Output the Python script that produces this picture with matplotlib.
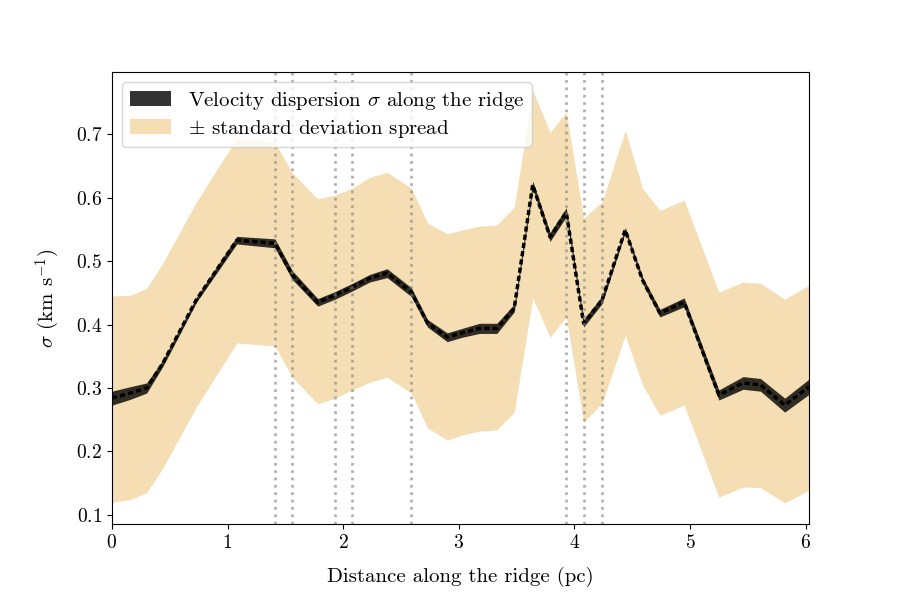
import matplotlib
matplotlib.use('Agg')
import matplotlib.pyplot as plt
import numpy as np

plt.rcParams['font.family'] = 'serif'
plt.rcParams['font.serif'] = ['cmr10', 'DejaVu Serif']
plt.rcParams['mathtext.fontset'] = 'cm'
plt.rcParams['axes.formatter.use_mathtext'] = True
plt.rcParams['font.size'] = 15
plt.rcParams['xtick.labelsize'] = 14
plt.rcParams['ytick.labelsize'] = 14

# distance along the ridge (pc)
distance = [0.0, 0.156, 0.30, 0.44, 0.73, 1.08, 1.41, 1.56, 1.78, 1.93, 2.08,
            2.23, 2.38, 2.59, 2.73, 2.90, 3.03, 3.18, 3.33, 3.48, 3.64, 3.79,
            3.93, 4.08, 4.24, 4.44, 4.59, 4.74, 4.95, 5.25, 5.46, 5.61, 5.82, 6.03]
# velocity dispersion (km/s)
sigma = [0.284, 0.292, 0.300, 0.339, 0.439, 0.533, 0.528, 0.478, 0.435, 0.446, 0.459,
         0.473, 0.481, 0.451, 0.402, 0.380, 0.387, 0.394, 0.394, 0.426, 0.620, 0.538,
         0.577, 0.402, 0.439, 0.549, 0.470, 0.418, 0.435, 0.289, 0.308, 0.305, 0.273, 0.302]
# uncertainty on sigma (half-width of dark band)
sigma_err = [0.011, 0.010, 0.008, 0.005, 0.004, 0.006, 0.007, 0.007, 0.006, 0.006, 0.006,
             0.006, 0.007, 0.007, 0.006, 0.007, 0.007, 0.008, 0.008, 0.006, 0.006, 0.007,
             0.007, 0.006, 0.006, 0.004, 0.005, 0.006, 0.007, 0.008, 0.010, 0.010, 0.011, 0.012]
# standard deviation spread
upper = [0.445, 0.446, 0.457, 0.497, 0.593, 0.694, 0.687, 0.639, 0.598, 0.604, 0.615,
         0.632, 0.640, 0.615, 0.560, 0.543, 0.549, 0.555, 0.557, 0.585, 0.769, 0.703,
         0.735, 0.568, 0.593, 0.706, 0.615, 0.580, 0.596, 0.451, 0.467, 0.465, 0.440, 0.462]
lower = [0.120, 0.124, 0.135, 0.174, 0.270, 0.371, 0.366, 0.317, 0.275, 0.284, 0.297,
         0.309, 0.317, 0.292, 0.237, 0.218, 0.226, 0.232, 0.234, 0.262, 0.442, 0.380,
         0.412, 0.246, 0.276, 0.383, 0.305, 0.257, 0.273, 0.128, 0.144, 0.143, 0.119, 0.139]
# positions marked with vertical lines
marks = [1.41, 1.56, 1.93, 2.08, 2.59, 3.93, 4.08, 4.24]

d = np.array(distance)
s = np.array(sigma)
e = np.array(sigma_err)

fig = plt.figure(figsize=(9, 6), dpi=100)
ax = fig.add_axes([0.1244, 0.127, 0.7745, 0.753])

ax.fill_between(d, lower, upper, color='wheat', lw=0, label=r'$\pm$ standard deviation spread')
ax.fill_between(d, s - e, s + e, color='black', alpha=0.8, lw=0,
                label=r'Velocity dispersion $\sigma$ along the ridge')
ax.plot(d, s, color='black', ls=(0, (1.5, 0.9)), lw=2.5)
for m in marks:
    ax.axvline(m, color='gray', ls=':', lw=2, alpha=0.6)

ax.set_xlim(0, 6.03)
ax.set_ylim(0.086, 0.798)
ax.set_xticks([0, 1, 2, 3, 4, 5, 6])
ax.set_yticks([0.1, 0.2, 0.3, 0.4, 0.5, 0.6, 0.7])
ax.set_xlabel('Distance along the ridge (pc)', labelpad=11)
ax.set_ylabel(r'$\sigma$ (km s$^{-1}$)', labelpad=10)

h, l = ax.get_legend_handles_labels()
ax.legend(h[::-1], l[::-1], loc='upper left', labelspacing=0.3, borderpad=0.35)

fig.savefig('out.png', dpi=100)
